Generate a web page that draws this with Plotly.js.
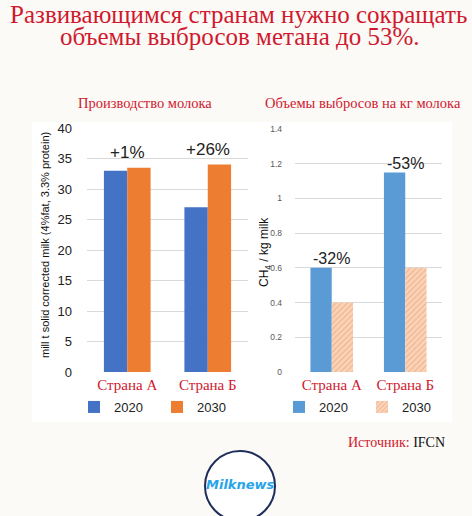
<!DOCTYPE html>
<html><head><meta charset="utf-8">
<script src="https://cdn.plot.ly/plotly-3.0.1.min.js"></script>
<style>html,body{margin:0;padding:0;background:#fbfaf6;}#chart{width:472px;height:516px;}</style>
</head><body><div id="chart"></div>
<script>
const categories = ["Страна А", "Страна Б"];
const seriesNames = ["2020", "2030"];
const milk2020 = [33, 27];
const milk2030 = [33.5, 34];
const ch4_2020 = [0.6, 1.15];
const ch4_2030 = [0.4, 0.6];
const milkChange = ["+1%", "+26%"];
const ch4Change = ["-32%", "-53%"];

const W = 472, H = 516;
const px = x => x / W, py = y => 1 - y / H;
const RED = "#d0192f";
const SERIF = "Liberation Serif, DejaVu Serif, serif";
const SANS = "Liberation Sans, Arial, sans-serif";

const traces = [
  {type: "bar", x: categories, y: milk2020, name: seriesNames[0], xaxis: "x", yaxis: "y",
   marker: {color: "#4472c4"}, legend: "legend"},
  {type: "bar", x: categories, y: milk2030, name: seriesNames[1], xaxis: "x", yaxis: "y",
   marker: {color: "#ed7d31"}, legend: "legend"},
  {type: "bar", x: categories, y: ch4_2020, name: seriesNames[0], xaxis: "x2", yaxis: "y2",
   marker: {color: "#5b9bd5"}, legend: "legend2"},
  {type: "bar", x: categories, y: ch4_2030, name: seriesNames[1], xaxis: "x2", yaxis: "y2",
   marker: {color: "#f9cfb3", pattern: {shape: "/", fgcolor: "#f2b48c", bgcolor: "#fad4ba", size: 4, solidity: 0.3}},
   legend: "legend2"}
];

const annotations = [];
categories.forEach((c, i) => {
  annotations.push({xref: "x", yref: "y", x: c, y: Math.max(milk2020[i], milk2030[i]), text: milkChange[i],
    showarrow: false, yanchor: "middle", yshift: 15, font: {family: SANS, size: 17, color: "#222"}});
  annotations.push({xref: "x2", yref: "y2", x: c, y: Math.max(ch4_2020[i], ch4_2030[i]), text: ch4Change[i],
    showarrow: false, yanchor: "middle", yshift: 9, font: {family: SANS, size: 16, color: "#222"}});
});
annotations.push(
  {xref: "paper", yref: "paper", x: px(8), y: py(14), xanchor: "left", yanchor: "middle", showarrow: false,
   text: "Развивающимся странам нужно сокращать", font: {family: SERIF, size: 25, color: RED}},
  {xref: "paper", yref: "paper", x: px(240), y: py(36), xanchor: "center", yanchor: "middle", showarrow: false,
   text: "объемы выбросов метана до 53%.", font: {family: SERIF, size: 25, color: RED}},
  {xref: "paper", yref: "paper", x: px(145), y: py(103), xanchor: "center", yanchor: "middle", showarrow: false,
   text: "Производство молока", font: {family: SERIF, size: 14.5, color: RED}},
  {xref: "paper", yref: "paper", x: px(363), y: py(103), xanchor: "center", yanchor: "middle", showarrow: false,
   text: "Объемы выбросов на кг молока", font: {family: SERIF, size: 14.5, color: RED}},
  {xref: "paper", yref: "paper", x: px(45), y: py(245), xanchor: "center", yanchor: "middle", showarrow: false,
   textangle: -90, text: "mill t solid corrected milk (4%fat, 3.3% protein)", font: {family: SANS, size: 11, color: "#111"}},
  {xref: "paper", yref: "paper", x: px(265), y: py(252), xanchor: "center", yanchor: "middle", showarrow: false,
   textangle: -90, text: "CH<sub>4</sub> / kg milk", font: {family: SANS, size: 12, color: "#111"}},
  {xref: "paper", yref: "paper", x: px(447), y: py(442), xanchor: "right", yanchor: "middle", showarrow: false,
   text: "<span style='color:" + RED + "'>Источник:</span> IFCN", font: {family: SERIF, size: 14, color: "#111"}},
  {xref: "paper", yref: "paper", x: px(240), y: py(484), xanchor: "center", yanchor: "middle", showarrow: false,
   text: "<b><i>Milknews</i></b>", font: {family: "DejaVu Sans, sans-serif", size: 13, color: "#27a4ea"}}
);

const legendBase = {orientation: "h", xanchor: "center", yanchor: "middle", bgcolor: "rgba(0,0,0,0)",
  font: {family: SANS, size: 13, color: "#222"}, itemwidth: 30, traceorder: "normal",
  entrywidth: 38, entrywidthmode: "pixels"};

const layout = {
  width: W, height: H,
  margin: {l: 0, r: 0, t: 0, b: 0},
  paper_bgcolor: "#fbfaf6",
  plot_bgcolor: "rgba(0,0,0,0)",
  barmode: "group",
  bargap: 0.42,
  bargroupgap: 0,
  showlegend: true,
  xaxis: {domain: [px(87), px(248)], anchor: "y", showgrid: false, zeroline: false, showline: false,
    ticks: "", tickfont: {family: SERIF, size: 15, color: RED}, ticklabelstandoff: 2},
  yaxis: {domain: [py(372), py(128)], anchor: "x", range: [0, 40], dtick: 5, showgrid: true,
    gridcolor: "#d9d9d9", zeroline: false, showline: false, ticks: "",
    tickfont: {family: SANS, size: 13, color: "#222"}, ticklabelstandoff: 14},
  xaxis2: {domain: [px(295), px(442)], anchor: "y2", showgrid: false, zeroline: false, showline: false,
    ticks: "", tickfont: {family: SERIF, size: 15, color: RED}, ticklabelstandoff: 2},
  yaxis2: {domain: [py(372), py(129)], anchor: "x2", range: [0, 1.4], dtick: 0.2, showgrid: true,
    gridcolor: "#d9d9d9", zeroline: false, showline: false, ticks: "",
    tickfont: {family: SANS, size: 8.5, color: "#595959"}, ticklabelstandoff: 12},
  legend: Object.assign({}, legendBase, {x: px(157), y: py(407)}),
  legend2: Object.assign({}, legendBase, {x: px(362), y: py(407)}),
  shapes: [
    {type: "rect", xref: "paper", yref: "paper", x0: px(32), x1: px(452), y0: py(422), y1: py(122),
     fillcolor: "#ffffff", line: {width: 0}, layer: "below"},
    {type: "circle", xref: "paper", yref: "paper", x0: px(205), x1: px(275), y0: py(521), y1: py(451),
     fillcolor: "#ffffff", line: {color: "#1f2d5a", width: 2}, layer: "below"}
  ],
  annotations: annotations
};

Plotly.newPlot("chart", traces, layout, {displayModeBar: false, staticPlot: true});
</script>
</body></html>
